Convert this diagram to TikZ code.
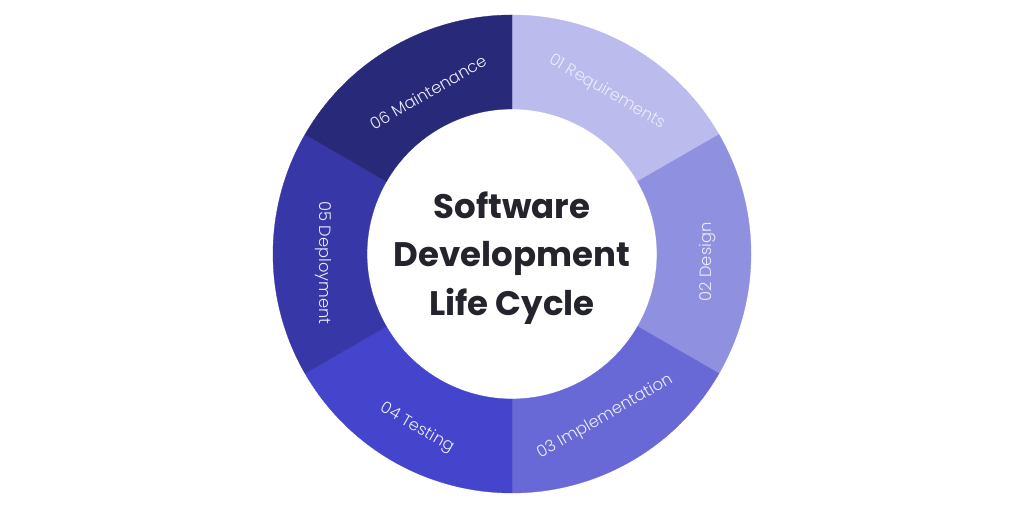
\documentclass[tikz,border=0pt]{standalone}
\usepackage{fontspec}
\setmainfont{Poppins}
\IfFontExistsTF{Poppins Light}{\newfontfamily\labelfont{Poppins Light}}{\newfontfamily\labelfont{Poppins}}
\definecolor{cReq}{HTML}{BBBBEE}
\definecolor{cDes}{HTML}{9090E0}
\definecolor{cImp}{HTML}{6868D6}
\definecolor{cTes}{HTML}{4444CC}
\definecolor{cDep}{HTML}{3737A8}
\definecolor{cMai}{HTML}{29297A}
\definecolor{cTitle}{HTML}{24242C}
\definecolor{cLabel}{HTML}{ECECFB}
\usetikzlibrary{calc}
\tikzset{
  seglabel/.style={text=cLabel, font=\labelfont\fontsize{16.3}{19}\selectfont, inner sep=0pt},
  titletext/.style={text=cTitle, font=\fontsize{34}{48.5}\selectfont\bfseries, align=center},
}
\newcommand{\ringseg}[3]{%
  \fill[#3, draw=#3, line width=0.3pt] (512,256) ++(#1:239) arc[start angle=#1, end angle=#2, radius=239]
    -- ($(512,256)+(#2:145)$) arc[start angle=#2, end angle=#1, radius=145] -- cycle;}
\begin{document}
\begin{tikzpicture}[x=1pt,y=1pt]
\useasboundingbox (0,0) rectangle (1024,510);
\fill[white] (0,0) rectangle (1024,510);
\ringseg{90}{30}{cReq}
\ringseg{30}{-30}{cDes}
\ringseg{-30}{-90}{cImp}
\ringseg{-90}{-150}{cTes}
\ringseg{-150}{-210}{cDep}
\ringseg{150}{90}{cMai}
\node[seglabel, rotate=-30] (req) at (607,418) {01 Requirements};
\node[seglabel, rotate=90] (des) at (708,248) {02 Design};
\node[seglabel, rotate=30] (imp) at (605,93) {03 Implementation};
\node[seglabel, rotate=-30] (tes) at (417,82) {04 Testing};
\node[seglabel, rotate=-90] (dep) at (323,247) {05 Deployment};
\node[seglabel, rotate=30] (mai) at (428,418) {06 Maintenance};
\node[titletext] (title) at (512,252) {Software\\Development\\Life Cycle};
\end{tikzpicture}
\end{document}
